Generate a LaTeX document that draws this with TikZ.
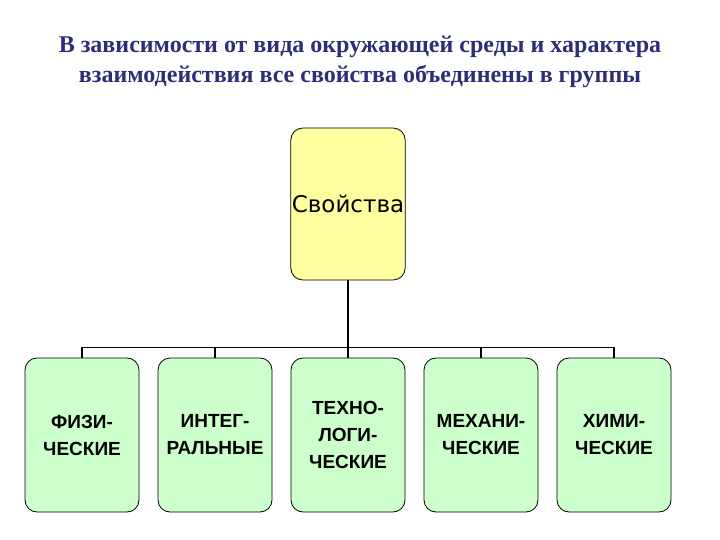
\documentclass[tikz,border=0pt]{standalone}
\usepackage{fontspec}
\setmainfont{Liberation Serif}
\newfontfamily\boxfont{DejaVu Sans}
\newfontfamily\groupfont{Liberation Sans}
\usetikzlibrary{trees}
\definecolor{propfill}{RGB}{255,255,160}
\definecolor{groupfill}{RGB}{204,255,204}
\definecolor{titleblue}{RGB}{45,45,120}
\begin{document}
\begin{tikzpicture}[x=1pt,y=-1pt,
  level distance=231pt, sibling distance=133pt,
  prop/.style={rectangle,rounded corners=12pt,draw,line width=0.8pt,fill=propfill,minimum width=114pt,minimum height=152pt,inner sep=1pt,font=\boxfont\fontsize{23}{27}\selectfont},
  group/.style={rectangle,rounded corners=12pt,draw,line width=0.8pt,fill=groupfill,minimum width=114pt,minimum height=154pt,inner sep=1pt,align=center,font=\groupfont\bfseries\fontsize{19}{27}\selectfont},
  edge from parent/.style={draw,line width=1.6pt},
  edge from parent path={(\tikzparentnode.south) -- ++(0pt,-67pt) -| (\tikzchildnode.north)}]
\useasboundingbox (0,0) rectangle (720,540);
\node [align=center,text=titleblue,font=\bfseries\fontsize{24}{30}\selectfont] (title) at (360,62)
  {В зависимости от вида окружающей среды и характера\\взаимодействия все свойства объединены в группы};
\node [prop] (props) at (348,204) {Свойства}
  child {node [group] (phys) {ФИЗИ-\\ЧЕСКИЕ}}
  child {node [group] (integ) {ИНТЕГ-\\РАЛЬНЫЕ}}
  child {node [group] (techn) {ТЕХНО-\\ЛОГИ-\\ЧЕСКИЕ}}
  child {node [group] (mech) {МЕХАНИ-\\ЧЕСКИЕ}}
  child {node [group] (chem) {ХИМИ-\\ЧЕСКИЕ}};
\end{tikzpicture}
\end{document}
